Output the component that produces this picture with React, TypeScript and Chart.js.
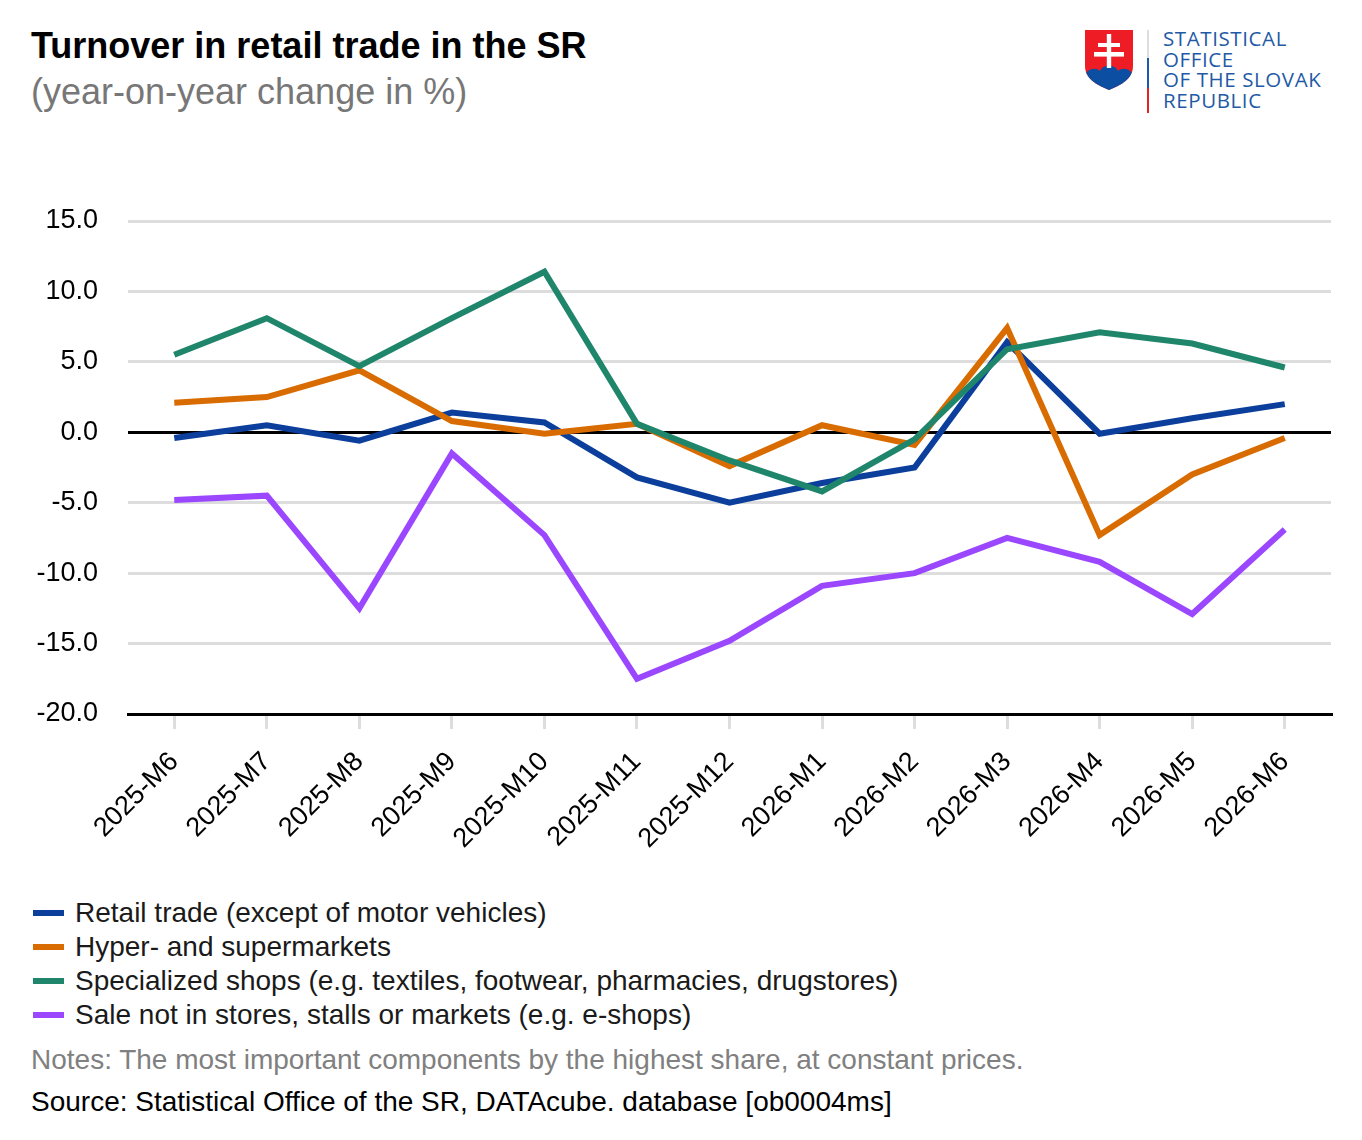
import React, { useRef, useEffect } from 'react';
import { Chart, registerables } from 'chart.js';

Chart.register(...registerables);

const months = [
  '2025-M6', '2025-M7', '2025-M8', '2025-M9', '2025-M10', '2025-M11', '2025-M12',
  '2026-M1', '2026-M2', '2026-M3', '2026-M4', '2026-M5', '2026-M6',
];

const retailTrade = [-0.4, 0.5, -0.6, 1.4, 0.7, -3.2, -5.0, -3.6, -2.5, 6.4, -0.1, 1.0, 2.0];
const hyperSupermarkets = [2.1, 2.5, 4.4, 0.8, -0.1, 0.6, -2.4, 0.5, -0.9, 7.4, -7.3, -3.0, -0.4];
const specializedShops = [5.5, 8.1, 4.7, 8.1, 11.4, 0.6, -2.0, -4.2, -0.5, 5.9, 7.1, 6.3, 4.6];
const notInStores = [-4.8, -4.5, -12.5, -1.5, -7.3, -17.5, -14.8, -10.9, -10.0, -7.5, -9.2, -12.9, -6.9];

const seriesNames = [
  'Retail trade (except of motor vehicles)',
  'Hyper- and supermarkets',
  'Specialized shops (e.g. textiles, footwear, pharmacies, drugstores)',
  'Sale not in stores, stalls or markets (e.g. e-shops)',
];
const seriesColors = ['#0c3f9c', '#d96c00', '#1f866b', '#9a47ff'];

const FONT = '"Liberation Sans", Arial, Helvetica, sans-serif';

// puts a line of text so that its baseline lands on y
const textAt = (size: number, baseline: number) => ({
  position: 'absolute' as const,
  top: baseline - 0.8465 * size,
  fontSize: size,
  lineHeight: `${size}px`,
  whiteSpace: 'nowrap' as const,
});

const LineChart: React.FC = () => {
  const canvasRef = useRef<HTMLCanvasElement>(null);
  const chartRef = useRef<Chart | null>(null);

  useEffect(() => {
    if (!canvasRef.current) return;
    const ctx = canvasRef.current.getContext('2d');
    if (!ctx) return;

    const allSeries = [retailTrade, hyperSupermarkets, specializedShops, notInStores];

    chartRef.current = new Chart(ctx, {
      type: 'line',
      data: {
        labels: months,
        datasets: allSeries.map((values, i) => ({
          label: seriesNames[i],
          data: values,
          borderColor: seriesColors[i],
          backgroundColor: seriesColors[i],
          borderWidth: 6,
          pointRadius: 0,
          tension: 0,
          borderJoinStyle: 'miter' as const,
          order: 4 - i,
        })),
      },
      options: {
        responsive: false,
        animation: false,
        layout: { padding: { top: 81, right: 31, left: 0, bottom: 0 } },
        plugins: {
          legend: { display: false },
          tooltip: { enabled: false },
        },
        scales: {
          x: {
            offset: true,
            grid: {
              offset: false,
              drawOnChartArea: false,
              drawTicks: true,
              tickLength: 15,
              color: '#dddddd',
              lineWidth: 3,
            },
            border: { display: true, color: '#000', width: 3 },
            ticks: {
              color: '#000',
              font: { family: FONT, size: 27 },
              maxRotation: 45,
              minRotation: 45,
              autoSkip: false,
              padding: 17,
            },
            afterFit: (scale: any) => {
              scale.height = 166;
            },
          },
          y: {
            min: -20,
            max: 15,
            border: { display: false },
            grid: {
              drawTicks: false,
              lineWidth: 3,
              color: (c: any) =>
                c.tick && (c.tick.value === 0 || c.tick.value === -20) ? '#000' : '#dddddd',
            },
            ticks: {
              stepSize: 5,
              color: '#000',
              padding: 30,
              font: { family: FONT, size: 27 },
              callback: (v: any) => Number(v).toFixed(1),
            },
            afterFit: (scale: any) => {
              scale.width = 128;
            },
          },
        },
      },
    });

    return () => {
      if (chartRef.current) {
        chartRef.current.destroy();
        chartRef.current = null;
      }
    };
  }, []);

  return (
    <canvas
      ref={canvasRef}
      width={1362}
      height={740}
      style={{ position: 'absolute', left: 0, top: 140, width: 1362, height: 740 }}
    />
  );
};

const Logo: React.FC = () => (
  <div style={{ position: 'absolute', left: 1085, top: 29 }}>
    <svg width={48} height={60} viewBox="0 0 48 60" style={{ position: 'absolute', left: 0, top: 1 }}>
      <defs>
        <clipPath id="shield">
          <path d="M0,0 H48 V36 C48,49 36,55 24,60 C12,55 0,49 0,36 Z" />
        </clipPath>
      </defs>
      <path d="M0,0 H48 V36 C48,49 36,55 24,60 C12,55 0,49 0,36 Z" fill="#ee1c25" />
      <g clipPath="url(#shield)">
        <path
          d="M0,60 V44 C3,39 11,37 15,41 C18,34 30,34 33,41 C37,37 45,39 48,44 V60 Z"
          fill="#0b4ea2"
        />
      </g>
      <rect x={21.8} y={4} width={4.4} height={34} fill="#fff" />
      <rect x={13} y={13} width={22} height={4} fill="#fff" />
      <rect x={9} y={22} width={30} height={4.6} fill="#fff" />
    </svg>
    <div style={{ position: 'absolute', left: 62, top: 1, width: 2, height: 28, background: '#dddddd' }} />
    <div style={{ position: 'absolute', left: 62, top: 29, width: 2, height: 30, background: '#1f5aa6' }} />
    <div style={{ position: 'absolute', left: 62, top: 59, width: 2, height: 25, background: '#e5202a' }} />
    {['STATISTICAL', 'OFFICE', 'OF THE SLOVAK', 'REPUBLIC'].map((line, i) => (
      <div
        key={line}
        style={{
          position: 'absolute',
          left: 78,
          top: 16 + i * 20.7 - 17,
          fontFamily: '"Open Sans", "Noto Sans", sans-serif',
          fontSize: 20.5,
          lineHeight: '20.5px',
          letterSpacing: 0.6,
          color: '#1f5aa6',
          whiteSpace: 'nowrap',
        }}
      >
        {line}
      </div>
    ))}
  </div>
);

const App: React.FC = () => {
  useEffect(() => {
    document.body.style.margin = '0';
  }, []);

  return (
    <div
      style={{
        position: 'relative',
        width: 1362,
        height: 1140,
        background: '#fff',
        fontFamily: FONT,
        color: '#000',
        overflow: 'hidden',
      }}
    >
      <div style={{ ...textAt(36, 58), left: 31, fontWeight: 'bold' }}>
        Turnover in retail trade in the SR
      </div>
      <div style={{ ...textAt(36, 104), left: 31, color: '#777777' }}>(year-on-year change in %)</div>

      <Logo />

      <LineChart />

      {seriesNames.map((name, i) => (
        <React.Fragment key={name}>
          <div
            style={{
              position: 'absolute',
              left: 33,
              top: 910 + i * 34,
              width: 31,
              height: 6,
              background: seriesColors[i],
            }}
          />
          <div style={{ ...textAt(28, 922.5 + i * 34), left: 75, color: '#1a1a1a' }}>{name}</div>
        </React.Fragment>
      ))}

      <div style={{ ...textAt(28, 1069.5), left: 31, color: '#808080' }}>
        Notes: The most important components by the highest share, at constant prices.
      </div>
      <div style={{ ...textAt(28, 1111.5), left: 31, color: '#000' }}>
        Source: Statistical Office of the SR, DATAcube. database [ob0004ms]
      </div>
    </div>
  );
};

export default App;
